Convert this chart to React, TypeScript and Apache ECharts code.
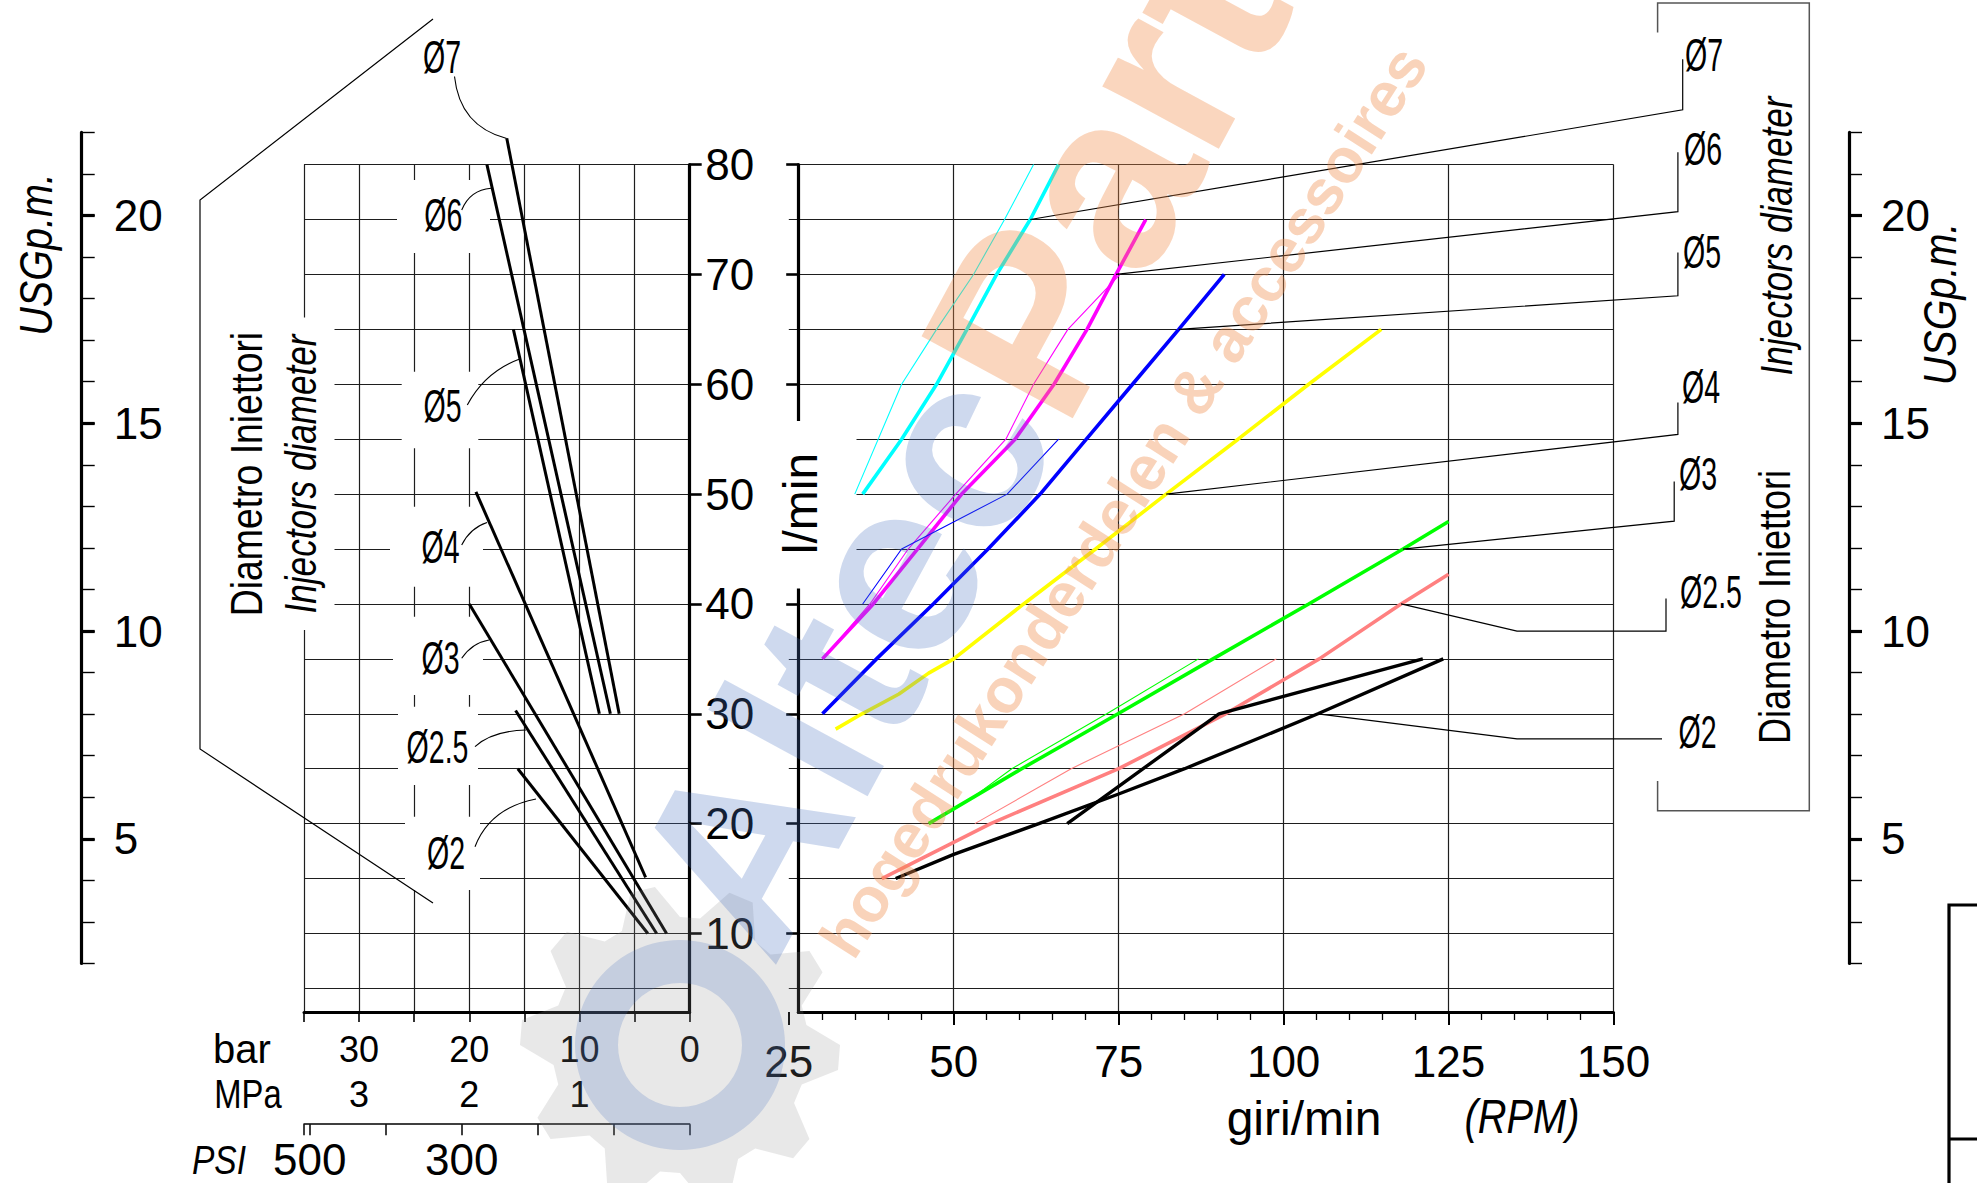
import React, { useEffect, useRef } from "react";
import * as echarts from "echarts";

const W = 1977;
const H = 1183;

// ---------------- DATA ----------------
const barTickLabels = [30, 20, 10, 0];
const mpaTickLabels = [3, 2, 1];
const psiTickLabels = [500, 300];
const rpmTickLabels = [25, 50, 75, 100, 125, 150];
const lminTickLabels = [10, 20, 30, 40, 50, 60, 70, 80];
const usgTickLabels = [5, 10, 15, 20];
const PSI_PER_BAR = 14.5038;

const diameters = ["Ø7", "Ø6", "Ø5", "Ø4", "Ø3", "Ø2.5", "Ø2"];

// pressure (bar) -> flow (l/min), one characteristic per injector diameter
const pressD7 = [[16.6, 82.4], [6.4, 30]];
const pressD6 = [[18.4, 80], [7.2, 30]];
const pressD5 = [[16.0, 65], [8.2, 30]];
const pressD4 = [[19.4, 50.2], [4.0, 15.1]];
const pressD3 = [[20.0, 40], [2.1, 10]];
const pressD25 = [[15.8, 30.3], [3.0, 10]];
const pressD2 = [[15.6, 25], [3.8, 10]];

// pump speed (giri/min) -> flow (l/min)
const rpmD7thin = [[35, 50], [42.1, 60], [47.4, 65], [53, 70], [57.7, 75], [62.1, 80]];
const rpmD7 = [[36.2, 50], [42.1, 55], [47.4, 60], [52, 65], [56.5, 70], [61.6, 75], [65.9, 80]];
const rpmD6thin = [[30.1, 35], [37.3, 40], [43.1, 45], [50.3, 50], [57.9, 55], [62.1, 60], [67.3, 65], [75.2, 70]];
const rpmD6 = [[30.1, 35], [37.8, 40], [44.5, 45], [51.2, 50], [59.3, 55], [65.2, 60], [70.2, 65], [74.6, 70], [79.1, 75]];
const rpmD5thin = [[36.2, 40], [42.1, 45], [58.1, 50], [65.9, 55]];
const rpmD5 = [[30.1, 30], [38.3, 35], [46.9, 40], [55.2, 45], [63.1, 50], [70.1, 55], [77.1, 60], [84.1, 65], [91, 70]];
const rpmD4 = [[32.1, 28.6], [36.1, 30], [41.7, 31.8], [46.2, 33.7], [50, 35], [60.6, 40], [71.5, 45], [82.2, 50], [93.1, 55], [103.8, 60], [114.8, 65]];
const rpmD3thin = [[52, 22], [58.8, 25], [73.2, 30], [87.1, 35]];
const rpmD3 = [[46.2, 20], [60.3, 25], [74.9, 30], [89.3, 35], [103.8, 40], [118.1, 45], [125, 47.5]];
const rpmD25thin = [[53.2, 20], [67.8, 25], [85, 30], [98.9, 35]];
const rpmD25 = [[39.1, 15], [55.6, 20], [75, 25], [91.2, 30], [105.4, 35], [117.8, 40], [125, 42.7]];
const rpmD2a = [[41.2, 15], [50, 17.2], [62.9, 20], [75, 22.7], [85, 25], [105.2, 30], [124.2, 35]];
const rpmD2b = [[67.2, 20], [90.2, 30], [121.1, 35]];

// anchor points (giri/min, l/min) of the right-hand diameter call-outs
const calloutAnchors = [[61.6, 75], [74.6, 70], [84.1, 65], [82.2, 50], [118.1, 45], [117.8, 40], [105.2, 30]];

// ---------------- LAYOUT ----------------
const FONT = "'Liberation Sans Narrow', 'Liberation Sans', 'DejaVu Sans Condensed', sans-serif";
const INK = "#000";
const GRIDC = "#1e1e1e";
const TOP = 164.6;
const BOT = 1012;
const YMIN = 2.85;
const YMAX = 80;
const PXL = (BOT - TOP) / (YMAX - YMIN);
const yPx = (v: number) => TOP + (YMAX - v) * PXL;
const A_L = 304;
const A_R = 689.7;
const B_L = 788.8;
const B_R = 1613.5;
const AX_B = 798.2;
const USG_TOP = 132.4;
const USG_20 = 215.5;
const USG_PX = 41.55;

const lab = (size: number, extra: any = {}) => ({ show: true, fontSize: size, fontFamily: FONT, color: INK, ...extra });
const split = { show: true, lineStyle: { color: GRIDC, width: 1.2 } };
const hiddenX = (gridIndex: number) => ({ type: "value", gridIndex, show: false, min: 0, max: 1 });

const usgMinor = (g: number) => ({
  type: "value", gridIndex: g, position: "left", min: 2, max: 22, interval: 1,
  axisLine: { show: true, onZero: false, lineStyle: { color: INK, width: 3.2 } },
  axisTick: { show: true, inside: true, length: 13, lineStyle: { color: INK, width: 1.4 } },
  axisLabel: { show: false }, splitLine: { show: false },
});
const usgMajor = (g: number) => ({
  type: "value", gridIndex: g, position: "left", min: 5, max: 20, interval: 5,
  axisLine: { show: false },
  axisTick: { show: true, inside: true, length: 13, lineStyle: { color: INK, width: 3.2 } },
  axisLabel: lab(44, { inside: true, margin: 32, formatter: (v: number) => (usgTickLabels.includes(v) ? String(v) : "") }),
  splitLine: { show: false },
});

function buildOption() {
  const pressData = [pressD7, pressD6, pressD5, pressD4, pressD3, pressD25, pressD2];
  const pressSeries = pressData.map((d, i) => ({
    type: "line", name: diameters[i] + " bar", xAxisIndex: 0, yAxisIndex: 0, data: d,
    symbol: "none", showSymbol: false, clip: false, silent: true, z: 2,
    lineStyle: { color: INK, width: 3 },
  }));
  const mainDefs: [number[][], string, number][] = [
    [rpmD7thin, "#00ffff", 1.1], [rpmD7, "#00ffff", 3.6],
    [rpmD6thin, "#ff00ff", 1.1], [rpmD6, "#ff00ff", 3.6],
    [rpmD5thin, "#0000ff", 1.1], [rpmD5, "#0000ff", 3.6],
    [rpmD4, "#ffff00", 3.6],
    [rpmD3thin, "#00ff00", 1.1], [rpmD3, "#00ff00", 3.6],
    [rpmD25thin, "#ff8080", 1.1], [rpmD25, "#ff8080", 3.6],
    [rpmD2a, "#000000", 3.4], [rpmD2b, "#000000", 3.4],
  ];
  const mainSeries = mainDefs.map(([d, c, w], i) => ({
    type: "line", name: "rpm" + i, xAxisIndex: 3, yAxisIndex: 2, data: d,
    symbol: "none", showSymbol: false, silent: true, z: 2,
    lineStyle: { color: c, width: w },
  }));

  return {
    animation: false,
    backgroundColor: "#ffffff",
    grid: [
      { left: A_L, top: TOP, width: A_R - A_L, height: BOT - TOP },
      { left: B_L, top: TOP, width: B_R - B_L, height: BOT - TOP },
      { left: A_R, top: TOP, width: AX_B - A_R, height: yPx(10) - TOP },
      { left: 81.7, top: USG_TOP, width: 10, height: 20 * USG_PX },
      { left: 81.7, top: USG_20, width: 10, height: 15 * USG_PX },
      { left: 1849, top: USG_TOP, width: 10, height: 20 * USG_PX },
      { left: 1849, top: USG_20, width: 10, height: 15 * USG_PX },
      { left: AX_B, top: BOT - 10, width: B_R - AX_B, height: 10 },
    ],
    xAxis: [
      {
        type: "value", gridIndex: 0, position: "bottom", min: 0, max: 35, interval: 5, inverse: true,
        axisLine: { show: true, onZero: false, lineStyle: { color: INK, width: 3 } },
        axisTick: { show: true, length: 10, lineStyle: { color: INK, width: 1.6 } },
        axisLabel: lab(36, { margin: 19, formatter: (v: number) => (barTickLabels.includes(v) ? String(v) : "") }),
        splitLine: { ...split, showMinLine: false, showMaxLine: true },
      },
      {
        type: "value", gridIndex: 0, position: "bottom", offset: 60, min: 0, max: 3.5, interval: 1, inverse: true,
        axisLine: { show: false, onZero: false }, axisTick: { show: false }, splitLine: { show: false },
        axisLabel: lab(36, { margin: 4, formatter: (v: number) => (mpaTickLabels.includes(v) ? String(v) : "") }),
      },
      {
        type: "value", gridIndex: 0, position: "bottom", offset: 112.2, min: 0, max: 35 * PSI_PER_BAR, interval: 100, inverse: true,
        axisLine: { show: true, onZero: false, lineStyle: { color: INK, width: 1.5 } },
        axisTick: { show: true, length: 11, lineStyle: { color: INK, width: 1.5 } },
        splitLine: { show: false },
        axisLabel: lab(44, { margin: 13, formatter: (v: number) => (psiTickLabels.includes(v) ? String(v) : "") }),
      },
      {
        type: "value", gridIndex: 1, position: "bottom", min: 25, max: 150, interval: 25,
        axisLine: { show: false, onZero: false },
        axisTick: { show: true, length: 13, lineStyle: { color: INK, width: 2 } },
        minorTick: { show: true, splitNumber: 5, length: 8, lineStyle: { color: INK, width: 1.3 } },
        axisLabel: lab(44, { margin: 27, formatter: (v: number) => (rpmTickLabels.includes(v) ? String(v) : "") }),
        splitLine: { ...split, showMinLine: false, showMaxLine: true },
        minorSplitLine: { show: false },
      },
      hiddenX(2), hiddenX(3), hiddenX(4), hiddenX(5), hiddenX(6),
      {
        type: "value", gridIndex: 7, position: "bottom", min: 0, max: 1,
        axisLine: { show: true, onZero: false, lineStyle: { color: INK, width: 3 } },
        axisTick: { show: false }, axisLabel: { show: false }, splitLine: { show: false },
      },
    ],
    yAxis: [
      {
        type: "value", gridIndex: 0, position: "left", min: YMIN, max: YMAX, minInterval: 5, maxInterval: 5,
        axisLine: { show: false }, axisTick: { show: false }, axisLabel: { show: false },
        splitLine: { ...split, showMinLine: false, showMaxLine: true },
      },
      {
        type: "value", gridIndex: 0, position: "right", min: YMIN, max: YMAX,
        axisLine: { show: true, onZero: false, lineStyle: { color: INK, width: 3.2 } },
        axisTick: { show: false }, axisLabel: { show: false }, splitLine: { show: false },
      },
      {
        type: "value", gridIndex: 1, position: "left", offset: B_L - AX_B, min: YMIN, max: YMAX, minInterval: 5, maxInterval: 5,
        axisLine: { show: true, onZero: false, lineStyle: { color: INK, width: 3.2 } },
        axisTick: { show: false }, axisLabel: { show: false },
        splitLine: { ...split, showMinLine: false, showMaxLine: true },
      },
      {
        type: "value", gridIndex: 2, position: "left", min: 10, max: 80, interval: 10,
        axisLine: { show: false },
        axisTick: { show: true, inside: true, length: 12, lineStyle: { color: INK, width: 2.6 } },
        axisLabel: { show: false }, splitLine: { show: false },
      },
      {
        type: "value", gridIndex: 2, position: "right", min: 10, max: 80, interval: 10,
        axisLine: { show: false },
        axisTick: { show: true, inside: true, length: 12, lineStyle: { color: INK, width: 2.6 } },
        axisLabel: lab(44, { inside: true, margin: 44, formatter: (v: number) => (lminTickLabels.includes(v) ? String(v) : "") }),
        splitLine: { show: false },
      },
      usgMinor(3), usgMajor(4), usgMinor(5), usgMajor(6),
      { type: "value", gridIndex: 7, show: false, min: 0, max: 1 },
    ],
    series: [...pressSeries, ...mainSeries],
  };
}

function buildGraphic(toPx: (p: number[]) => number[]) {
  const g: any[] = [];
  const rect = (x: number, y: number, w: number, h: number) => ({
    type: "rect", z: 1, silent: true, shape: { x, y, width: w, height: h }, style: { fill: "#ffffff" },
  });
  const text = (s: string, x: number, y: number, size: number, o: any = {}) => ({
    type: "text", z: o.z ?? 4, silent: true, x, y, rotation: o.rot ?? 0, scaleX: o.sx ?? 1,
    style: {
      text: s, fontSize: size, fontFamily: o.family ?? FONT, fontStyle: o.italic ? "italic" : "normal",
      fontWeight: o.weight ?? "normal", fill: o.fill ?? INK,
      align: o.align ?? "center", verticalAlign: "middle", textAlign: o.align ?? "center", textVerticalAlign: "middle",
      rich: o.rich,
    },
  });
  const poly = (pts: number[][], w = 1.2, color = INK, z = 3) => ({
    type: "polyline", z, silent: true, shape: { points: pts }, style: { stroke: color, lineWidth: w, fill: null },
  });
  const curve = (x1: number, y1: number, cx: number, cy: number, x2: number, y2: number) => ({
    type: "bezierCurve", z: 3, silent: true, shape: { x1, y1, cpx1: cx, cpy1: cy, x2, y2 },
    style: { stroke: INK, lineWidth: 1.1, fill: null },
  });
  const R90 = Math.PI / 2;
  const DSX = 0.62;

  // white wipe-outs behind labels
  g.push(rect(210, 317.6, 124.5, 312.4));
  g.push(rect(762, 421, 94.5, 167.5));
  const leftBoxes = [
    null,
    [397, 180, 93, 73],
    [401.7, 371.7, 76.6, 76.6],
    [390, 506.7, 93, 80],
    [393, 616.7, 90, 78.3],
    [398, 706.7, 80, 78.3],
    [405, 816.7, 75, 73.3],
  ];
  leftBoxes.forEach((b) => { if (b) g.push(rect(b[0], b[1], b[2], b[3])); });

  // left diameter labels with curved leaders
  const leftPos = [[442, 56.5], [443.3, 215], [442.5, 406], [440.5, 547], [440.5, 658], [437.5, 747], [446, 853]];
  const leftCurves = [
    [454.5, 76.5, 459.8, 126.3, 506.7, 138.5],
    [461.7, 210, 470, 190, 491, 188.3],
    [467.3, 405, 485, 372, 519, 359.3],
    [461.7, 545, 470, 528, 487, 522.4],
    [461.7, 658.3, 472, 643, 489, 640],
    [475, 746.7, 492, 731, 526, 730],
    [475, 846.7, 490, 808, 536, 799],
  ];
  diameters.forEach((d, i) => {
    g.push(text(d, leftPos[i][0], leftPos[i][1], 46, { sx: DSX }));
    const c = leftCurves[i];
    g.push(curve(c[0], c[1], c[2], c[3], c[4], c[5]));
  });

  // left bracket and captions
  g.push(poly([[433, 19], [200, 200], [200, 749], [433, 903]], 1.2));
  g.push(text("Diametro Iniettori", 247, 474, 45, { rot: R90, sx: 0.83 }));
  g.push(text("Injectors diameter", 300, 474, 45, { rot: R90, italic: true, sx: 0.78 }));
  g.push(text("USGp.m.", 36, 254.5, 46, { rot: R90, italic: true, sx: 0.86 }));
  g.push(text("USGp.m.", 1940, 304, 46, { rot: R90, italic: true, sx: 0.86 }));
  g.push(text("l/min", 800, 503.6, 48, { rot: R90 }));
  g.push(text("bar", 242, 1049, 40));
  g.push(text("MPa", 248, 1094, 40, { sx: 0.82 }));
  g.push(text("PSI", 219, 1160, 40, { italic: true, sx: 0.84 }));
  g.push(text("giri/min", 1304, 1118.5, 48));
  g.push(text("(RPM)", 1522, 1116.5, 48, { italic: true, sx: 0.83 }));

  // right bracket box and captions
  g.push(poly([[1657.6, 32.5], [1657.6, 3], [1809.3, 3], [1809.3, 810.8], [1657.6, 810.8], [1657.6, 781]], 1.5, "#555"));
  g.push(text("Injectors diameter", 1776, 236, 45, { rot: R90, italic: true, sx: 0.78 }));
  g.push(text("Diametro Iniettori", 1775, 607, 45, { rot: R90, sx: 0.8 }));

  // right call-outs
  const rightPaths = [
    [[1682.7, 109.8], [1682.7, 59.3]],
    [[1677.9, 211.6], [1677.9, 152.3]],
    [[1677.9, 295.8], [1677.9, 252.6]],
    [[1677.9, 434.4], [1677.9, 402.6]],
    [[1674.2, 521.2], [1674.2, 481.4]],
    [[1517, 631.2], [1666, 631.2], [1666, 598.5]],
    [[1517, 738.8], [1662, 738.8]],
  ];
  const rightPos = [[1704, 54.6], [1703, 148.5], [1702, 251.7], [1701, 386.6], [1698, 474], [1711, 592], [1697.6, 731.5]];
  diameters.forEach((d, i) => {
    const start = toPx(calloutAnchors[i]);
    g.push(poly([start, ...rightPaths[i]], 1.2));
    g.push(text(d, rightPos[i][0], rightPos[i][1], 46, { sx: DSX }));
  });

  // title-block fragment at the bottom right
  g.push(poly([[1990, 905], [1949, 905], [1949, 1190]], 3.2, INK, 3));
  g.push(poly([[1949, 1139], [1990, 1139]], 3.2, INK, 3));

  // watermark
  const gear: number[][] = [];
  const gcx = 680, gcy = 1045, teeth = 10;
  for (let k = 0; k < teeth * 4; k++) {
    const a = (k / (teeth * 4)) * Math.PI * 2;
    const r = k % 4 < 2 ? 160 : 128;
    gear.push([gcx + r * Math.cos(a), gcy + r * Math.sin(a)]);
  }
  g.push({ type: "polygon", z: 9, silent: true, shape: { points: gear }, style: { fill: "rgba(140,140,140,0.2)" } });
  g.push({ type: "ring", z: 9, silent: true, shape: { cx: gcx, cy: gcy, r: 105, r0: 62 }, style: { fill: "rgba(74,116,191,0.22)" } });
  g.push(text("{b|Altec}{o|Parts}", 697, 929, 250, {
    rot: 1.073, align: "left", z: 10, family: "'Liberation Sans', sans-serif", weight: "bold",
    rich: {
      b: { fill: "rgba(74,116,191,0.27)", fontSize: 250, fontWeight: "bold", fontFamily: "'Liberation Sans', sans-serif" },
      o: { fill: "rgba(240,140,74,0.36)", fontSize: 250, fontWeight: "bold", fontFamily: "'Liberation Sans', sans-serif" },
    },
  }));
  g.push(text("hogedrukonderdelen & accessoires", 835, 950, 63, {
    rot: 1.0, align: "left", z: 10, family: "'Liberation Sans', sans-serif", weight: "bold", fill: "rgba(240,140,74,0.38)",
  }));
  return g;
}

export default function App() {
  const ref = useRef<HTMLDivElement>(null);
  useEffect(() => {
    const el = ref.current;
    if (!el) return;
    const chart = echarts.init(el, undefined, { renderer: "svg", width: W, height: H });
    chart.setOption(buildOption() as any);
    const toPx = (p: number[]) => chart.convertToPixel({ seriesIndex: 7 }, p) as number[];
    chart.setOption({ graphic: buildGraphic(toPx) } as any);
    return () => chart.dispose();
  }, []);
  return (
    <div
      ref={ref}
      style={{ position: "fixed", left: 0, top: 0, width: W, height: H, background: "#fff" }}
    />
  );
}
